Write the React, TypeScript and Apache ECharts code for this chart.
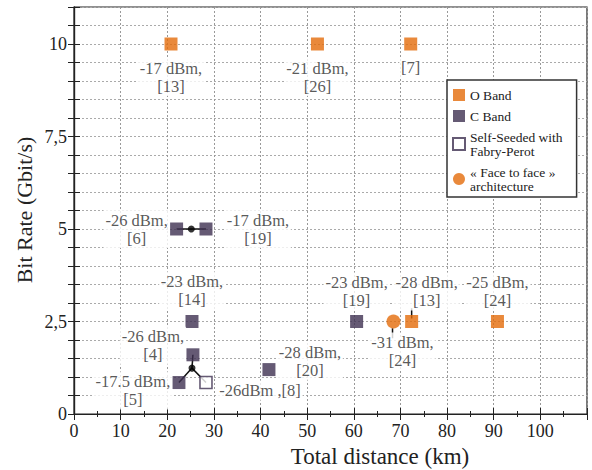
import React, { useEffect, useRef } from "react";
import * as echarts from "echarts";

// ---- data ----
const xTicks = [0, 10, 20, 30, 40, 50, 60, 70, 80, 90, 100];
const yTickLabels = ["0", "2,5", "5", "7,5", "10"];

const oBandX = [20.8, 52.2, 72.2, 72.4, 90.8];
const oBandY = [10, 10, 10, 2.5, 2.5];
const oBandNotes = ["-17 dBm,\n[13]", "-21 dBm,\n[26]", "[7]", "-28 dBm,\n[13]", "-25 dBm,\n[24]"];

const cBandX = [22.0, 28.3, 25.3, 25.5, 22.5, 41.8, 60.6];
const cBandY = [5, 5, 2.5, 1.6, 0.85, 1.2, 2.5];
const cBandNotes = ["-26 dBm,\n[6]", "-17 dBm,\n[19]", "-23 dBm,\n[14]", "-26 dBm,\n[4]", "-17.5 dBm,\n[5]", "-28 dBm,\n[20]", "-23 dBm,\n[19]"];

const selfSeededX = [28.3];
const selfSeededY = [0.85];
const selfSeededNotes = ["-26dBm ,[8]"];

const faceX = [68.5];
const faceY = [2.5];
const faceNotes = ["-31 dBm,\n[24]"];

const junctionX = [25.15, 25.3];
const junctionY = [5, 1.24];

// connector segments: [x1, y1, x2, y2]
const connectors = [
  [22.0, 5, 28.3, 5],
  [25.3, 1.24, 25.5, 1.6],
  [25.3, 1.24, 22.5, 0.85],
  [25.3, 1.24, 28.3, 0.85],
  [72.4, 2.58, 72.4, 2.86],
  [68.3, 2.32, 68.3, 2.05],
];

const seriesNames = ["O Band", "C Band", "Self-Seeded with\nFabry-Perot", "« Face to face »\narchitecture"];

// ---- layout (label offsets in px relative to point) ----
const oBandOffsets = [[0, 33], [0, 33], [0, 23], [15, -30], [0, -30]];
const cBandOffsets = [[-40, 0], [52, 0], [0, -31], [-40, -9], [-46, 8], [41, -8], [0, -30]];
const selfOffsets = [[54, 8]];
const faceOffsets = [[9, 30]];

const ORANGE = "#E46C0A";
const PURPLE = "#3F3151";
const SERIF = "Liberation Serif";

function pts(xs: number[], ys: number[], notes: string[], offsets: number[][]) {
  return xs.map((x, i) => ({
    value: [x, ys[i]],
    label: {
      show: true,
      formatter: notes[i],
      position: "inside",
      offset: offsets[i],
      align: "center",
      verticalAlign: "middle",
    },
  }));
}

const noteLabel = {
  fontFamily: SERIF,
  fontSize: 16.5,
  lineHeight: 18,
  color: "#2e2e2e",
  backgroundColor: "#fff",
  padding: [1, 2],
};

export default function App() {
  const ref = useRef<HTMLDivElement>(null);
  useEffect(() => {
    if (!ref.current) return;
    const chart = echarts.init(ref.current, null, { renderer: "svg" });
    const tickFont = { fontFamily: SERIF, fontSize: 18, color: "#222" };
    const option: any = {
      animation: false,
      backgroundColor: "#fff",
      textStyle: { fontFamily: SERIF },
      grid: { left: 74, right: 5, top: 7, bottom: 56, show: true, borderColor: "#222", borderWidth: 1.2 },
      legend: {
        orient: "vertical",
        left: 447,
        top: 80,
        data: seriesNames,
        itemWidth: 12,
        itemHeight: 12,
        itemGap: 7,
        padding: [8, 14, 4, 5],
        borderColor: "#333",
        borderWidth: 1.5,
        backgroundColor: "#fff",
        textStyle: { fontFamily: SERIF, fontSize: 13.5, color: "#222", lineHeight: 14 },
      },
      xAxis: [
        {
          type: "value",
          min: 0,
          max: 110,
          interval: 10,
          axisLine: { lineStyle: { color: "#222", width: 1.2 } },
          axisTick: { inside: true, length: 6, lineStyle: { color: "#222" } },
          minorTick: { show: true, splitNumber: 2, length: 3, lineStyle: { color: "#222" } },
          axisLabel: {
            ...tickFont,
            margin: 8,
            formatter: (v: number) => (xTicks.includes(v) ? String(v) : ""),
          },
          splitLine: { show: true, lineStyle: { color: "#999", type: [2, 2], width: 1 } },
        },
        {
          type: "value",
          position: "top",
          min: 0,
          max: 110,
          interval: 10,
          axisLine: { show: true, lineStyle: { color: "#222", width: 1.2 } },
          axisTick: { inside: true, length: 6, lineStyle: { color: "#222" } },
          minorTick: { show: true, splitNumber: 2, length: 3, lineStyle: { color: "#222" } },
          axisLabel: { show: false },
          splitLine: { show: false },
        },
      ],
      yAxis: [
        {
          type: "value",
          min: 0,
          max: 11,
          interval: 0.5,
          axisLine: { show: true, lineStyle: { color: "#222", width: 1.2 } },
          axisTick: {
            inside: true,
            length: 6,
            interval: (i: number) => i % 5 === 0,
            lineStyle: { color: "#222" },
          },
          axisLabel: {
            ...tickFont,
            margin: 7,
            interval: (i: number) => i % 5 === 0 && i / 5 < yTickLabels.length,
            formatter: (_v: number, i: number) => (i % 5 === 0 && yTickLabels[i / 5] !== undefined ? yTickLabels[i / 5] : ""),
          },
          splitLine: { show: true, lineStyle: { color: "#aaa", type: [2, 2], width: 1 } },
        },
        {
          type: "value",
          position: "right",
          min: 0,
          max: 11,
          interval: 0.5,
          axisLine: { show: true, lineStyle: { color: "#222", width: 1.2 } },
          axisTick: {
            inside: true,
            length: 6,
            interval: (i: number) => i % 5 === 0,
            lineStyle: { color: "#222" },
          },
          axisLabel: { show: false },
          splitLine: { show: false },
        },
      ],
      series: [
        ...connectors.map((c) => ({
          type: "line",
          data: [[c[0], c[1]], [c[2], c[3]]],
          symbol: "none",
          lineStyle: { color: "#111", width: 1.5 },
          silent: true,
          z: 2,
        })),
        {
          type: "scatter",
          data: junctionX.map((x, i) => [x, junctionY[i]]),
          symbol: "circle",
          symbolSize: 7,
          itemStyle: { color: "#000" },
          z: 3,
        },
        {
          name: seriesNames[0],
          type: "scatter",
          symbol: "rect",
          symbolSize: 13,
          itemStyle: { color: ORANGE },
          label: noteLabel,
          data: pts(oBandX, oBandY, oBandNotes, oBandOffsets),
          z: 5,
        },
        {
          name: seriesNames[1],
          type: "scatter",
          symbol: "rect",
          symbolSize: 13,
          itemStyle: { color: PURPLE },
          label: noteLabel,
          data: pts(cBandX, cBandY, cBandNotes, cBandOffsets),
          z: 5,
        },
        {
          name: seriesNames[2],
          type: "scatter",
          symbol: "rect",
          symbolSize: 12,
          itemStyle: { color: "#fff", borderColor: PURPLE, borderWidth: 1.6 },
          label: noteLabel,
          data: pts(selfSeededX, selfSeededY, selfSeededNotes, selfOffsets),
          z: 5,
        },
        {
          name: seriesNames[3],
          type: "scatter",
          symbol: "circle",
          symbolSize: 14,
          itemStyle: { color: ORANGE },
          label: noteLabel,
          data: pts(faceX, faceY, faceNotes, faceOffsets),
          z: 5,
        },
      ],
      graphic: [
        {
          type: "text",
          x: 380,
          y: 456,
          style: {
            text: "Total distance (km)",
            fontFamily: SERIF,
            fontSize: 23,
            fill: "#222",
            align: "center",
            verticalAlign: "middle",
          },
        },
        {
          type: "text",
          x: 24,
          y: 210,
          rotation: Math.PI / 2,
          style: {
            text: "Bit Rate (Gbit/s)",
            fontFamily: SERIF,
            fontSize: 22,
            fill: "#222",
            align: "center",
            verticalAlign: "middle",
          },
        },
      ],
    };
    chart.setOption(option);
    return () => chart.dispose();
  }, []);
  return <div ref={ref} style={{ position: "absolute", left: 0, top: 0, width: 592, height: 470 }} />;
}
